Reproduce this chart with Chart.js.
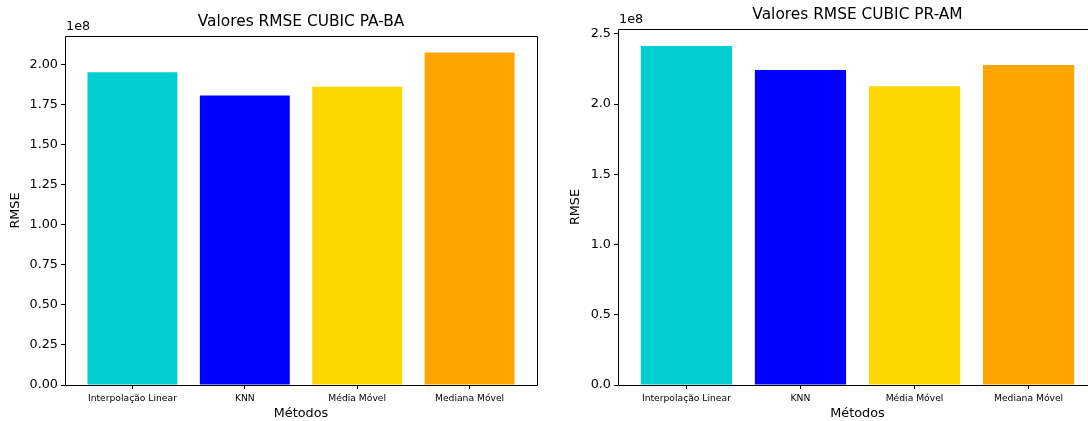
<!DOCTYPE html>
<html>
<head>
<meta charset="utf-8">
<script src="https://cdn.jsdelivr.net/npm/chart.js@4.4.0/dist/chart.umd.min.js"></script>
<style>
html, body { margin: 0; padding: 0; background: #fff; overflow: hidden; width: 1088px; height: 421px; }
.box { position: absolute; top: 0; width: 560px; height: 421px; }
</style>
</head>
<body>
<div class="box" style="left:0"><canvas id="chartPaBa" width="560" height="421"></canvas></div>
<div class="box" style="left:560px"><canvas id="chartPrAm" width="560" height="421"></canvas></div>
<script>
// dados (escala 1e8)
const metodos = ['Interpolação Linear', 'KNN', 'Média Móvel', 'Mediana Móvel'];
const cores = ['#00CED1', '#0000FF', '#FFD700', '#FFA500'];
const rmsePaBa = [1.950e8, 1.806e8, 1.860e8, 2.073e8];
const rmsePrAm = [2.414e8, 2.242e8, 2.127e8, 2.278e8];
const ticksPaBa = ['0.00', '0.25', '0.50', '0.75', '1.00', '1.25', '1.50', '1.75', '2.00'];
const ticksPrAm = ['0.0', '0.5', '1.0', '1.5', '2.0', '2.5'];

const FONTE = '"DejaVu Sans", sans-serif';

// moldura dos eixos + texto "1e8"
const moldura = {
  id: 'moldura',
  afterDraw(chart) {
    const { ctx, chartArea: a } = chart;
    const l = Math.round(a.left) + 0.5, t = Math.round(a.top) + 0.5;
    const r = Math.round(a.right) + 0.5, b = Math.round(a.bottom) + 0.5;
    ctx.save();
    ctx.strokeStyle = '#000';
    ctx.lineWidth = 1;
    ctx.beginPath();
    ctx.moveTo(r, t); ctx.lineTo(l, t); ctx.lineTo(l, b); ctx.lineTo(r, b);
    if (chart.options.moldura.direita) { ctx.lineTo(r, t); }
    ctx.stroke();
    ctx.font = '12.8px ' + FONTE;
    ctx.fillStyle = '#000';
    ctx.textBaseline = 'bottom';
    ctx.textAlign = 'left';
    ctx.fillText('1e8', a.left + 1, a.top - 3);
    ctx.restore();
  }
};

function criaGrafico(id, titulo, valores, rotulosY, largEixoY, padTitulo, direita) {
  return new Chart(document.getElementById(id), {
    type: 'bar',
    data: {
      datasets: [{
        data: valores.map((v, i) => ({ x: i, y: v })),
        backgroundColor: cores,
        borderWidth: 0,
        barPercentage: 0.8,
        categoryPercentage: 1.0
      }]
    },
    options: {
      responsive: false,
      devicePixelRatio: 1,
      animation: false,
      moldura: { direita },
      layout: { padding: { left: 0, right: 23, top: 0, bottom: 0 } },
      plugins: {
        legend: { display: false },
        tooltip: { enabled: false },
        title: {
          display: true,
          text: titulo,
          fullSize: false,
          color: '#000',
          font: { family: FONTE, size: 15.4, weight: 'normal', lineHeight: 1.2 },
          padding: { top: padTitulo, bottom: 4.76 }
        }
      },
      scales: {
        x: {
          type: 'linear',
          min: -0.6,
          max: 3.6,
          offset: false,
          afterBuildTicks: s => { s.ticks = metodos.map((_, i) => ({ value: i })); },
          afterFit: s => { s.height = 36; },
          ticks: {
            callback: v => metodos[v],
            autoSkip: false,
            maxRotation: 0,
            color: '#000',
            padding: 4,
            font: { family: FONTE, size: 9.2 }
          },
          grid: { offset: false, drawOnChartArea: false, drawTicks: true, tickLength: 4, color: '#000' },
          border: { display: false },
          title: {
            display: true,
            text: 'Métodos',
            color: '#000',
            font: { family: FONTE, size: 12.8, lineHeight: 1.2 },
            padding: { top: 0, bottom: 0 }
          }
        },
        y: {
          min: 0,
          max: Math.max(...valores) * 1.05,
          afterBuildTicks: s => { s.ticks = rotulosY.map(t => ({ value: parseFloat(t) * 1e8 })); },
          afterFit: s => { s.width = largEixoY; },
          ticks: {
            callback: (v, i) => rotulosY[i],
            color: '#000',
            padding: 3,
            font: { family: FONTE, size: 12.8 }
          },
          grid: { drawOnChartArea: false, drawTicks: true, tickLength: 4, color: '#000' },
          border: { display: false },
          title: {
            display: true,
            text: 'RMSE',
            color: '#000',
            font: { family: FONTE, size: 12.8, lineHeight: 1.2 },
            padding: { top: 8, bottom: 0 }
          }
        }
      }
    },
    plugins: [moldura]
  });
}

criaGrafico('chartPaBa', 'Valores RMSE CUBIC PA-BA', rmsePaBa, ticksPaBa, 65, 12.76, true);
criaGrafico('chartPrAm', 'Valores RMSE CUBIC PR-AM', rmsePrAm, ticksPrAm, 58, 5.76, false);
</script>
</body>
</html>
